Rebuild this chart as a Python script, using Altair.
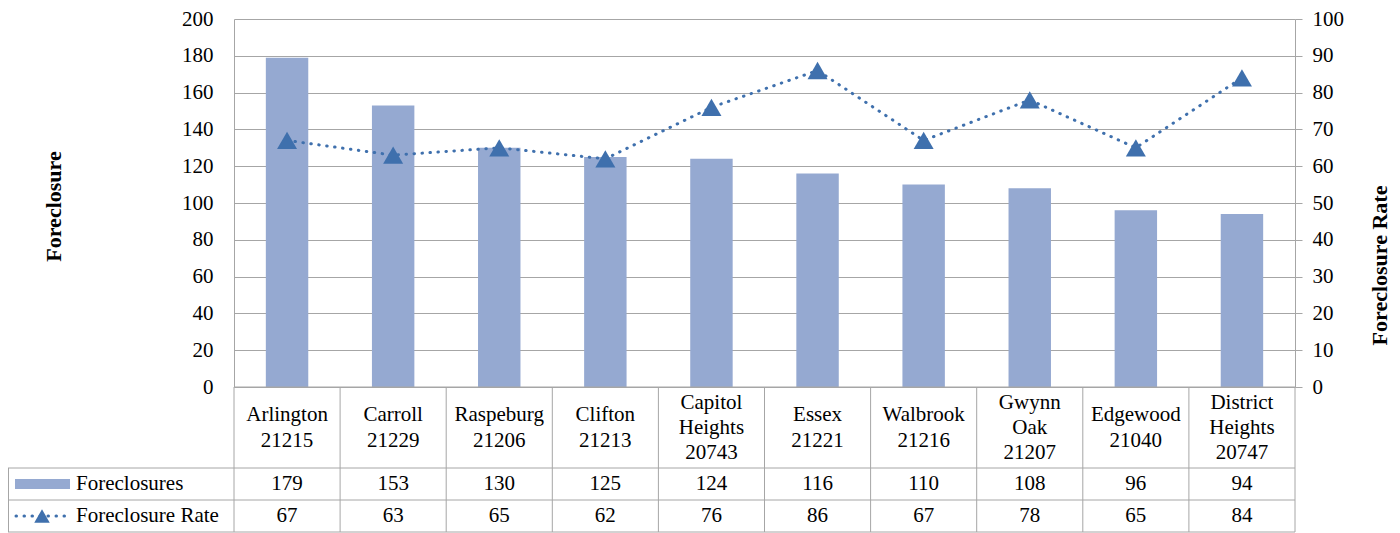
import altair as alt
import pandas as pd

# ---- data ----
names = ["Arlington", "Carroll", "Raspeburg", "Clifton", "Capitol Heights",
         "Essex", "Walbrook", "Gwynn Oak", "Edgewood", "District Heights"]
zips = ["21215", "21229", "21206", "21213", "20743",
        "21221", "21216", "21207", "21040", "20747"]
foreclosures = [179, 153, 130, 125, 124, 116, 110, 108, 96, 94]
rates = [67, 63, 65, 62, 76, 86, 67, 78, 65, 84]

left_ticks = list(range(0, 201, 20))
right_ticks = list(range(0, 101, 10))

labels = ["\n".join(n.split(" ") + [z]) for n, z in zip(names, zips)]
nlines = [len(n.split(" ")) + 1 for n in names]
df = pd.DataFrame({"cat": names, "label": labels, "nlines": nlines,
                   "foreclosures": foreclosures, "rate": rates})

# ---- styling ----
BAR = "#95A9D1"
LINE = "#3F70AD"
GRID = "#A6A6A6"
FONT = "Liberation Serif"
TOP = 11
W, H = 1061, 368
ROW1, ROW2, ROW3 = 449, 481, 513   # table row boundaries (plot px)
LEFT = -226
LH = 26

xenc = alt.X("cat:N", sort=names, axis=None,
             scale=alt.Scale(paddingInner=0, paddingOuter=0))
base = alt.Chart(df)

bars = base.mark_bar(color=BAR, width=alt.RelativeBandSize(0.4)).encode(
    x=xenc,
    y=alt.Y("foreclosures:Q", scale=alt.Scale(domain=[0, 200]),
            axis=alt.Axis(values=left_ticks, title="Foreclosure", grid=True,
                          gridColor=GRID, domainColor=GRID, ticks=False,
                          tickSize=0, labelPadding=21,
                          titleX=-181, titleY=187, titleAngle=-90,
                          titleBaseline="middle", titleAlign="center")),
)

line = base.mark_line(color=LINE, strokeWidth=3, strokeDash=[0.5, 7.5],
                      strokeCap="round").encode(
    x=xenc,
    y=alt.Y("rate:Q", scale=alt.Scale(domain=[0, 100]),
            axis=alt.Axis(values=right_ticks, orient="right",
                          title="Foreclosure Rate", grid=False,
                          domainColor=GRID, tickColor=GRID, tickSize=7,
                          labelPadding=10,
                          titleX=84, titleY=246, titleAngle=-90,
                          titleBaseline="middle", titleAlign="center")),
)

pts = base.mark_point(shape="triangle-up", filled=True, color=LINE,
                      size=400, opacity=1).encode(
    x=xenc,
    y=alt.Y("rate:Q", scale=alt.Scale(domain=[0, 100]), axis=None),
)

mid = (H + ROW1) / 2
cat_text2 = base.transform_filter(alt.datum.nlines == 2).mark_text(
    font=FONT, fontSize=21, lineBreak="\n", lineHeight=LH, baseline="middle",
    color="black").encode(x=xenc, y=alt.value(mid - LH / 2), text="label:N")
cat_text3 = base.transform_filter(alt.datum.nlines == 3).mark_text(
    font=FONT, fontSize=21, lineBreak="\n", lineHeight=25, baseline="middle",
    color="black").encode(x=xenc, y=alt.value(mid - 25), text="label:N")
num1 = base.mark_text(font=FONT, fontSize=21, baseline="middle",
                      color="black").encode(
    x=xenc, y=alt.value((ROW1 + ROW2) / 2), text="foreclosures:Q")
num2 = base.mark_text(font=FONT, fontSize=21, baseline="middle",
                      color="black").encode(
    x=xenc, y=alt.value((ROW2 + ROW3) / 2), text="rate:Q")

vrules = base.mark_rule(color=GRID, strokeWidth=1).encode(
    x=alt.X("cat:N", sort=names, axis=None, bandPosition=0,
            scale=alt.Scale(paddingInner=0, paddingOuter=0)),
    y=alt.value(H), y2=alt.value(ROW3))

one = alt.Data(values=[{}])


def hrule(y, x1, x2):
    return alt.Chart(one).mark_rule(color=GRID, strokeWidth=1).encode(
        x=alt.value(x1), x2=alt.value(x2), y=alt.value(y))


def vrule(x, y1, y2):
    return alt.Chart(one).mark_rule(color=GRID, strokeWidth=1).encode(
        x=alt.value(x), y=alt.value(y1), y2=alt.value(y2))


table_lines = [hrule(H, 0, W), hrule(ROW1, LEFT, W), hrule(ROW2, LEFT, W),
               hrule(ROW3, LEFT, W), vrule(W, H, ROW3), vrule(LEFT + 0.5, ROW1, ROW3)]

# legend inside table
leg_bar = alt.Chart(one).mark_rect(color=BAR).encode(
    x=alt.value(-219), x2=alt.value(-164),
    y=alt.value((ROW1 + ROW2) / 2 - 5), y2=alt.value((ROW1 + ROW2) / 2 + 5))
leg_line = alt.Chart(one).mark_rule(color=LINE, strokeWidth=3,
                                    strokeDash=[0.5, 7.5], strokeCap="round").encode(
    x=alt.value(-218), x2=alt.value(-165), y=alt.value((ROW2 + ROW3) / 2))
leg_tri = alt.Chart(one).mark_point(shape="triangle-up", filled=True,
                                    color=LINE, size=240, opacity=1).encode(
    x=alt.value(-192), y=alt.value((ROW2 + ROW3) / 2))
leg_t1 = alt.Chart(one).mark_text(font=FONT, fontSize=21, align="left",
                                  baseline="middle", color="black",
                                  text="Foreclosures").encode(
    x=alt.value(-158), y=alt.value((ROW1 + ROW2) / 2))
leg_t2 = alt.Chart(one).mark_text(font=FONT, fontSize=21, align="left",
                                  baseline="middle", color="black",
                                  text="Foreclosure Rate").encode(
    x=alt.value(-158), y=alt.value((ROW2 + ROW3) / 2))

chart = alt.layer(
    bars, line, pts, cat_text2, cat_text3, num1, num2, vrules, *table_lines,
    leg_bar, leg_line, leg_tri, leg_t1, leg_t2
).resolve_scale(y="independent").properties(
    width=W, height=H,
    background="white",
    autosize=alt.AutoSizeParams(type="none"),
    padding={"left": 226, "top": TOP, "right": 97, "bottom": 147},
).configure_view(stroke=None).configure_axis(
    labelFont=FONT, labelFontSize=21, labelColor="black",
    titleFont=FONT, titleFontSize=22, titleFontWeight="bold", titleColor="black",
)

chart.save("out.html", embed_options={"renderer": "svg", "actions": False})
